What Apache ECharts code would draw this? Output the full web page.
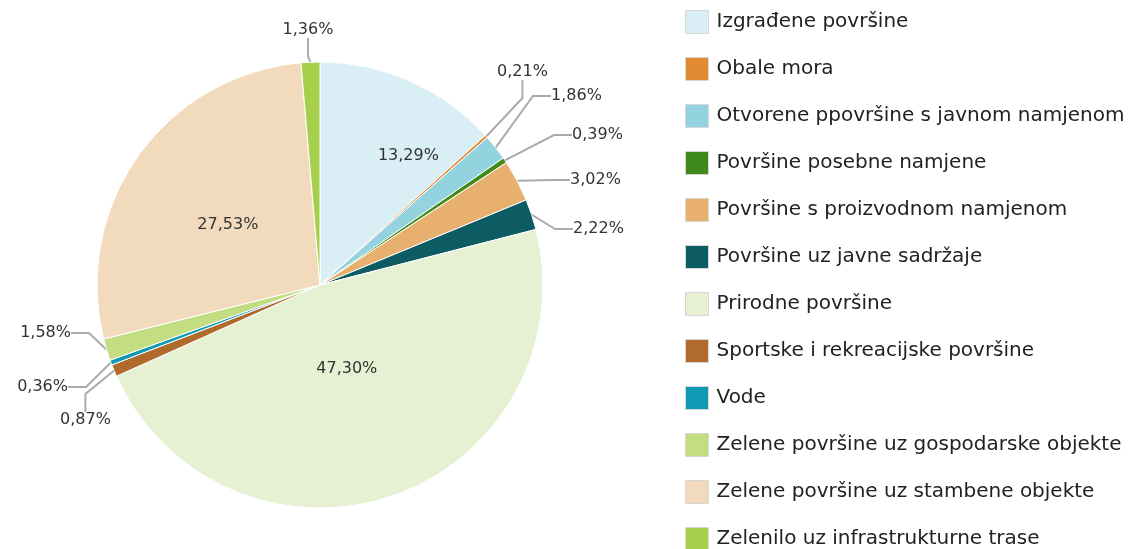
<!DOCTYPE html>
<html>
<head>
<meta charset="utf-8">
<script src="https://cdn.jsdelivr.net/npm/echarts@6/dist/echarts.min.js"></script>
<style>
  html, body { margin: 0; padding: 0; background: #fff; }
  #chart { width: 1147px; height: 549px; }
</style>
</head>
<body>
<div id="chart"></div>
<script>
const categories = [
  'Izgrađene površine',
  'Obale mora',
  'Otvorene ppovršine s javnom namjenom',
  'Površine posebne namjene',
  'Površine s proizvodnom namjenom',
  'Površine uz javne sadržaje',
  'Prirodne površine',
  'Sportske i rekreacijske površine',
  'Vode',
  'Zelene površine uz gospodarske objekte',
  'Zelene površine uz stambene objekte',
  'Zelenilo uz infrastrukturne trase'
]
const shares = [13.29, 0.21, 1.86, 0.39, 3.02, 2.22, 47.30, 0.87, 0.36, 1.58, 27.53, 1.36]
const colors = [
  '#d9eef5', '#e38a34', '#93d3e0', '#3f8a1a', '#e8b06e', '#0d5c63',
  '#e6f0d2', '#b06a2c', '#0e9ab3', '#c3dd82', '#f2dbbd', '#a6d04c'
]

const fmt = (v) => v.toFixed(2).replace('.', ',') + '%'
const font = '"DejaVu Sans", sans-serif'

// nudges for the inside labels so they sit like the original
const insideNudge = { 0: [42, -24], 6: [-11, -24], 10: [1, 6] }
// where the small outside labels sit (x, y, align)
const outsidePlace = {
  1: [497, 72, 'left'],
  2: [551, 96, 'left'],
  3: [572, 135, 'left'],
  4: [570, 180, 'left'],
  5: [573, 229, 'left'],
  7: [60, 420, 'left'],
  8: [68, 387, 'right'],
  9: [71, 333, 'right'],
  11: [308, 30, 'center']
}

const chart = echarts.init(document.getElementById('chart'))

const data = categories.map((name, i) => {
  const item = { name, value: shares[i], itemStyle: { color: colors[i] } }
  if (shares[i] > 10) {
    item.label = { position: 'inside' }
    item.labelLine = { show: false }
  }
  return item
})

chart.setOption({
  animation: false,
  color: colors,
  legend: {
    orient: 'vertical',
    left: 680,
    top: 5,
    height: 700,
    itemWidth: 23,
    itemHeight: 23,
    itemGap: 23,
    icon: 'rect',
    itemStyle: { borderColor: '#d6d6d6', borderWidth: 1 },
    textStyle: { fontFamily: font, fontSize: 20, color: '#222', lineHeight: 23, padding: [0, 0, 0, 3] },
    data: categories
  },
  series: [{
    type: 'pie',
    center: [320, 285],
    radius: 223,
    startAngle: 90,
    clockwise: true,
    avoidLabelOverlap: true,
    itemStyle: { borderColor: '#fff', borderWidth: 1 },
    label: {
      formatter: (p) => fmt(p.value),
      fontFamily: font,
      fontSize: 16,
      color: '#333'
    },
    labelLine: {
      length: 20,
      length2: 18,
      lineStyle: { color: '#aaa', width: 2 }
    },
    labelLayout: (p) => {
      const n = insideNudge[p.dataIndex]
      if (n) return { dx: n[0], dy: n[1] }
      const o = outsidePlace[p.dataIndex]
      if (o) return { x: o[0], y: o[1], align: o[2], verticalAlign: 'middle' }
      return {}
    },
    data
  }]
})
</script>
</body>
</html>
